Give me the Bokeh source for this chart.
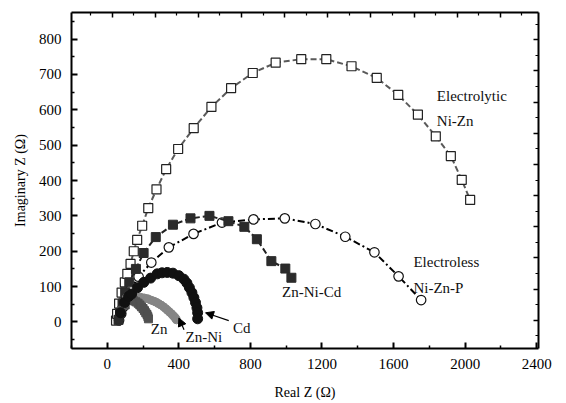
from bokeh.plotting import figure
from bokeh.models import (Range1d, LinearAxis, FixedTicker, Label, Arrow, NormalHead,
                          CustomLabelingPolicy)
from bokeh.embed import file_html
from bokeh.resources import INLINE

# ---------------- data ----------------
electrolytic_x = [49, 55, 66, 80, 98, 112, 130, 148, 167, 195, 229, 275, 329, 396, 483, 582,
                  692, 813, 941, 1084, 1224, 1365, 1506, 1626, 1736, 1836, 1920, 1981, 2028]
electrolytic_y = [4, 23, 52, 83, 112, 136, 164, 200, 232, 272, 322, 375, 432, 489, 548, 608,
                  661, 704, 733, 743, 743, 723, 690, 642, 586, 525, 469, 402, 345]

electroless_x = [66, 78, 87, 106, 132, 175, 246, 344, 482, 641, 817, 992, 1163, 1330, 1493,
                 1628, 1754]
electroless_y = [5, 23, 41, 64, 93, 128, 168, 211, 249, 281, 290, 293, 277, 241, 197, 129, 62]

znnicd_x = [63, 71, 85, 100, 123, 160, 203, 271, 367, 465, 571, 677, 766, 836, 917, 995, 1029]
znnicd_y = [6, 26, 52, 84, 112, 150, 195, 240, 275, 293, 300, 285, 269, 234, 172, 151, 125]

cd_x = [74, 97, 119, 136, 169, 204, 242, 279, 306, 335, 367, 400, 428, 445, 459, 473, 484,
        493, 501, 505, 505]
cd_y = [26, 55, 72, 79, 97, 112, 124, 136, 139, 140, 138, 131, 121, 110, 97, 83, 69, 55,
        40, 26, 9]

znni_x = [108, 128, 147, 167, 186, 206, 225, 243, 259, 273, 286, 300, 314, 326, 337, 348,
          359, 368, 376, 382, 387]
znni_y = [69, 71, 72, 71, 70, 68, 66, 62, 59, 56, 52, 48, 43, 38, 33, 28, 23, 18, 14, 10, 6]

zn_x = [80, 100, 119, 133, 147, 160, 172, 182, 191, 200, 208, 215, 222, 227, 230]
zn_y = [32, 48, 63, 62, 60, 57, 53, 48, 43, 38, 32, 26, 21, 15, 9]

x_major_ticks = [0, 400, 800, 1200, 1600, 2000, 2400]
x_minor_ticks = [-200, 200, 600, 1000, 1400, 1800, 2200]
y_major_ticks = [0, 100, 200, 300, 400, 500, 600, 700, 800]
y_minor_ticks = [-50, 50, 150, 250, 350, 450, 550, 650, 750, 850]

FONT = "Liberation Serif"

p = figure(width=566, height=403, output_backend="svg", toolbar_location=None,
           x_range=Range1d(-200, 2410), y_range=Range1d(-75, 875),
           min_border_left=71, min_border_right=28, min_border_top=12, min_border_bottom=55,
           background_fill_color="white", border_fill_color="white")
p.grid.visible = False
p.outline_line_color = None

# main axes
for ax in (p.xaxis[0], p.yaxis[0]):
    ax.axis_line_width = 2
    ax.axis_line_color = "black"
    ax.major_tick_in = 6
    ax.major_tick_out = 0
    ax.minor_tick_in = 3
    ax.minor_tick_out = 0
    ax.major_tick_line_width = 2
    ax.minor_tick_line_width = 1.5
    ax.major_label_text_font = FONT
    ax.major_label_text_font_size = "15px"
    ax.major_label_text_color = "black"
    ax.axis_label_text_font = FONT
    ax.axis_label_text_font_size = "14px"
    ax.axis_label_text_font_style = "normal"
    ax.axis_label_text_color = "black"
    ax.major_label_standoff = 10

p.xaxis[0].ticker = FixedTicker(ticks=x_major_ticks, minor_ticks=x_minor_ticks)
p.yaxis[0].ticker = FixedTicker(ticks=y_major_ticks, minor_ticks=y_minor_ticks)
p.xaxis[0].axis_label = "Real Z (\u03a9)"
p.yaxis[0].axis_label = "Imaginary Z (\u03a9)"
p.xaxis[0].axis_label_standoff = 13
p.yaxis[0].axis_label_standoff = 8

# mirror axes (own tick spacing, as in the reference), ticks only
no_labels = CustomLabelingPolicy(code="""
    const all = [...indices]
    for (const i of all) indices.unset(i)
    return indices
""")
p.extra_x_ranges = {"top": Range1d(-1.886, 19.769)}
p.extra_y_ranges = {"right": Range1d(0.19, 21.75)}
top_ax = LinearAxis(x_range_name="top",
                    ticker=FixedTicker(ticks=list(range(0, 20, 2)), minor_ticks=list(range(-1, 20, 2))))
right_ax = LinearAxis(y_range_name="right",
                      ticker=FixedTicker(ticks=list(range(2, 22, 2)), minor_ticks=list(range(1, 22, 2))))
for ax in (top_ax, right_ax):
    ax.axis_line_width = 2
    ax.axis_line_color = "black"
    ax.major_tick_in = 5
    ax.major_tick_out = 0
    ax.minor_tick_in = 3
    ax.minor_tick_out = 0
    ax.major_tick_line_width = 1.5
    ax.minor_tick_line_width = 1.2
    ax.major_label_policy = no_labels
    ax.major_label_standoff = 0
    ax.axis_label = None
p.add_layout(top_ax, "above")
p.add_layout(right_ax, "right")

# series
p.line(electrolytic_x, electrolytic_y, line_color="#5a5a5a", line_width=2, line_dash="6 3")
p.scatter(electrolytic_x, electrolytic_y, marker="square", size=9, fill_color="white",
          line_color="#222222", line_width=1.2)

p.line(electroless_x, electroless_y, line_color="black", line_width=2, line_dash="7 3 2 3")
p.scatter(electroless_x, electroless_y, marker="circle", size=9.5, fill_color="white",
          line_color="#111111", line_width=1.2)

p.line(znnicd_x, znnicd_y, line_color="#222222", line_width=2, line_dash="6 3")
p.scatter(znnicd_x, znnicd_y, marker="square", size=9, fill_color="#2b2b2b",
          line_color="#2b2b2b")

p.scatter(znni_x, znni_y, marker="circle", size=8, fill_color="#858585", line_color="#858585")
p.scatter(zn_x, zn_y, marker="square", size=8, fill_color="#505050", line_color="#505050")

p.scatter(cd_x, cd_y, marker="circle", size=10, fill_color="#111111", line_color="#111111")

# text labels
def lab(x, y, t):
    p.add_layout(Label(x=x, y=y, text=t, text_font=FONT, text_font_size="15px",
                       text_color="#111111", text_align="left", text_baseline="middle"))

lab(1842, 639, "Electrolytic")
lab(1842, 568, "Ni-Zn")
lab(1711, 170, "Electroless")
lab(1711, 97, "Ni-Zn-P")
lab(977, 84, "Zn-Ni-Cd")
lab(243, -21, "Zn")
lab(437, -43, "Zn-Ni")
lab(703, -17, "Cd")

# arrows
p.add_layout(Arrow(end=NormalHead(size=8, fill_color="black", line_color="black"),
                   x_start=679, y_start=4, x_end=549, y_end=26,
                   line_color="black", line_width=1.2))
p.add_layout(Arrow(end=NormalHead(size=8, fill_color="black", line_color="black"),
                   x_start=429, y_start=-22, x_end=400, y_end=11,
                   line_color="black", line_width=1.2))

open("out.html", "w").write(file_html(p, INLINE))
